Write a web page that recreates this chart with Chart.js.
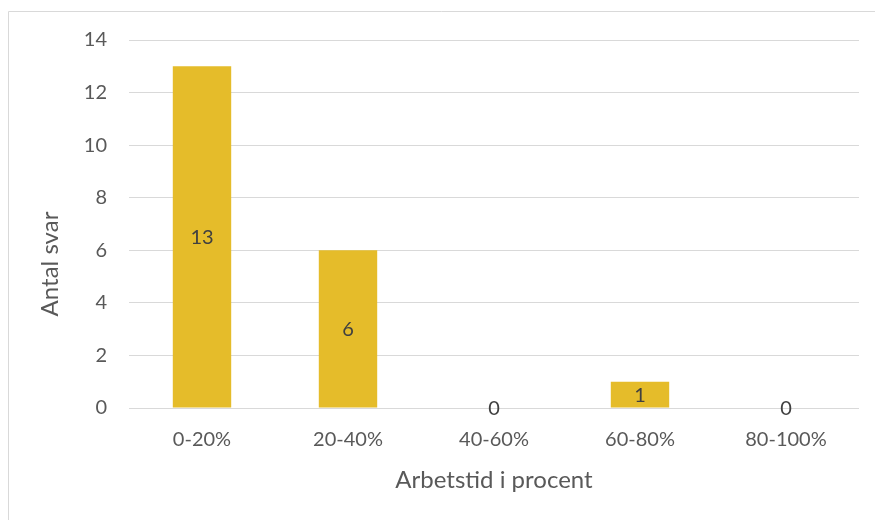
<!DOCTYPE html>
<html lang="sv">
<head>
    <meta charset="UTF-8">
    <title>Arbetstid i procent</title>
    <script src="https://cdn.jsdelivr.net/npm/chart.js@4.4.0/dist/chart.umd.min.js"></script>
    <style>
        html, body { margin: 0; padding: 0; background: #fff; }
        .chart-box { position: relative; width: 875px; height: 520px; }
    </style>
</head>
<body>
    <div class="chart-box">
        <canvas id="chart"></canvas>
    </div>

    <script>
        // Data
        const categories = ["0-20%", "20-40%", "40-60%", "60-80%", "80-100%"];
        const answers = [13, 6, 0, 1, 0];
        const yMin = 0;
        const yMax = 14;
        const yStep = 2;

        const xTitle = "Arbetstid i procent";
        const yTitle = "Antal svar";

        const FONT = "Lato, 'Open Sans', sans-serif";
        const TEXT = "#595959";
        const GRID = "#D9D9D9";

        // thin frame round the chart, like the Excel chart border
        const framePlugin = {
            id: "frame",
            beforeDraw(chart) {
                const c = chart.ctx;
                c.save();
                c.strokeStyle = GRID;
                c.lineWidth = 1;
                c.beginPath();
                c.moveTo(8.5, chart.height);
                c.lineTo(8.5, 11.5);
                c.lineTo(chart.width, 11.5);
                c.stroke();
                c.restore();
            }
        };

        // value labels in the middle of each bar
        const labelPlugin = {
            id: "barLabels",
            afterDatasetsDraw(chart) {
                const c = chart.ctx;
                const meta = chart.getDatasetMeta(0);
                c.save();
                c.font = "20px " + FONT;
                c.fillStyle = "#404040";
                c.textAlign = "center";
                c.textBaseline = "middle";
                meta.data.forEach((bar, i) => {
                    const p = bar.getProps(["x", "y", "base"], true);
                    c.fillText(String(answers[i]), p.x, (p.y + p.base) / 2 + 1);
                });
                c.restore();
            }
        };

        // axis titles (Excel centres the y title on the whole chart height)
        const titlePlugin = {
            id: "axisTitles",
            afterDraw(chart) {
                const c = chart.ctx;
                const area = chart.chartArea;
                c.save();
                c.font = "24px " + FONT;
                c.fillStyle = TEXT;
                c.textAlign = "center";
                c.textBaseline = "middle";
                c.fillText(xTitle, (area.left + area.right) / 2, 480);
                c.translate(50, 264);
                c.rotate(-Math.PI / 2);
                c.fillText(yTitle, 0, 0);
                c.restore();
            }
        };

        const ctx = document.getElementById("chart").getContext("2d");
        new Chart(ctx, {
            type: "bar",
            data: {
                labels: categories,
                datasets: [{
                    label: yTitle,
                    data: answers,
                    backgroundColor: "#E5BC2A",
                    borderWidth: 0,
                    barPercentage: 0.4,
                    categoryPercentage: 1.0
                }]
            },
            options: {
                responsive: true,
                maintainAspectRatio: false,
                animation: false,
                layout: {
                    padding: { top: 40, right: 16, left: 0, bottom: 0 }
                },
                plugins: {
                    legend: { display: false },
                    tooltip: { enabled: false }
                },
                scales: {
                    x: {
                        grid: { display: false, drawTicks: false },
                        border: { display: false },
                        ticks: {
                            color: TEXT,
                            font: { family: FONT, size: 20 },
                            padding: 20
                        },
                        afterFit(scale) { scale.height = 112; }
                    },
                    y: {
                        min: yMin,
                        max: yMax,
                        grid: { color: GRID, lineWidth: 1, drawTicks: false },
                        border: { display: false },
                        ticks: {
                            stepSize: yStep,
                            color: TEXT,
                            font: { family: FONT, size: 20 },
                            padding: 22
                        },
                        afterFit(scale) { scale.width = 129; }
                    }
                }
            },
            plugins: [framePlugin, labelPlugin, titlePlugin]
        });
    </script>
</body>
</html>
